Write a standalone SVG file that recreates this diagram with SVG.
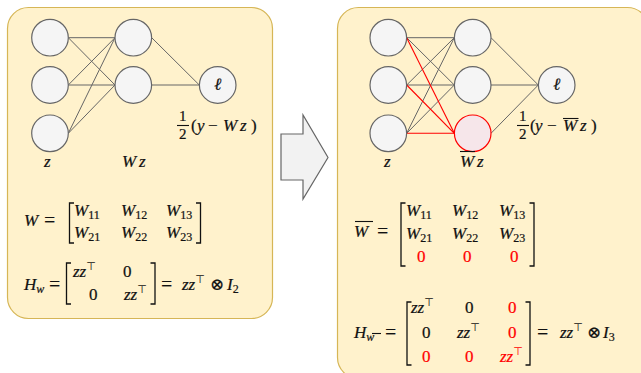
<svg xmlns="http://www.w3.org/2000/svg" width="641" height="373" viewBox="0 0 641 373">
<style>
.panel{fill:#fff2cc;stroke:#d6b656;stroke-width:1.2}
.node{fill:#f5f5f5;stroke:#666666;stroke-width:1.2}
.rnode{fill:#f6e6ea;stroke:#ff0000;stroke-width:1.2}
.e{stroke:#666666;stroke-width:1;fill:none}
.re{stroke:#ff0000;stroke-width:1.1;fill:none}
.m{font-family:"Liberation Serif","DejaVu Serif",serif;font-size:17px;fill:#111;stroke:#111;stroke-width:0.2}
.i{font-style:italic}
.s{font-size:12px;font-style:normal}
.si{font-size:12px;font-style:italic}
.t{font-family:"DejaVu Sans",sans-serif;font-size:11px;stroke-width:0.05}
.q{font-size:20px;stroke-width:0.1}
.f{font-size:15px}
.r{fill:#ff0000;stroke:#ff0000}
.br{fill:none;stroke:#111;stroke-width:1.3}
.ov{stroke:#111;stroke-width:1.1}
.arrow{fill:#f2f2f2;stroke:#666666;stroke-width:1.2}
</style>

<g id="left-panel"><rect class="panel" x="7.5" y="7.5" width="265" height="311" rx="21"/></g>
<g id="right-panel"><rect class="panel" x="337.5" y="7.5" width="311" height="371" rx="21"/></g>

<g id="arrow"><polygon class="arrow" points="281,134 303,134 303,115 328,157.5 303,199 303,180 281,180"/></g>

<g id="connectors">
  <line class="e" x1="68.3" y1="37.7" x2="115" y2="37.7"/>
  <line class="e" x1="68.3" y1="37.7" x2="115" y2="85"/>
  <line class="e" x1="68.3" y1="85" x2="115" y2="37.7"/>
  <line class="e" x1="68.3" y1="85" x2="115" y2="85"/>
  <line class="e" x1="68.3" y1="133.3" x2="115" y2="37.7"/>
  <line class="e" x1="68.3" y1="133.3" x2="115" y2="85"/>
  <line class="e" x1="151.7" y1="37.7" x2="199.3" y2="85"/>
  <line class="e" x1="151.7" y1="85" x2="199.3" y2="85"/>

  <line class="e" x1="406.7" y1="37.7" x2="454.3" y2="37.7"/>
  <line class="e" x1="406.7" y1="37.7" x2="454.3" y2="85"/>
  <line class="e" x1="406.7" y1="85" x2="454.3" y2="37.7"/>
  <line class="e" x1="406.7" y1="85" x2="454.3" y2="85"/>
  <line class="e" x1="406.7" y1="133.3" x2="454.3" y2="37.7"/>
  <line class="e" x1="406.7" y1="133.3" x2="454.3" y2="85"/>
  <line class="re" x1="406.7" y1="37.7" x2="454.3" y2="133.3"/>
  <line class="re" x1="406.7" y1="85" x2="454.3" y2="133.3"/>
  <line class="re" x1="406.7" y1="133.3" x2="454.3" y2="133.3"/>
  <line class="e" x1="491" y1="37.7" x2="538.3" y2="85"/>
  <line class="e" x1="491" y1="85" x2="538.3" y2="85"/>
  <line class="e" x1="491" y1="133.3" x2="538.3" y2="85"/>
</g>

<g id="l-in1"><circle class="node" cx="50" cy="37.7" r="18.3"/></g>
<g id="l-in2"><circle class="node" cx="50" cy="85" r="18.3"/></g>
<g id="l-in3"><circle class="node" cx="50" cy="133.3" r="18.3"/></g>
<g id="l-h1"><circle class="node" cx="133.3" cy="37.7" r="18.3"/></g>
<g id="l-h2"><circle class="node" cx="133.3" cy="85" r="18.3"/></g>
<g id="l-loss"><circle class="node" cx="217.7" cy="85" r="18.3"/><text class="m i" x="217.7" y="90" text-anchor="middle">ℓ</text></g>

<g id="r-in1"><circle class="node" cx="388.3" cy="37.7" r="18.3"/></g>
<g id="r-in2"><circle class="node" cx="388.3" cy="85" r="18.3"/></g>
<g id="r-in3"><circle class="node" cx="388.3" cy="133.3" r="18.3"/></g>
<g id="r-h1"><circle class="node" cx="472.7" cy="37.7" r="18.3"/></g>
<g id="r-h2"><circle class="node" cx="472.7" cy="85" r="18.3"/></g>
<g id="r-h3"><circle class="rnode" cx="472.7" cy="133.3" r="18.3"/></g>
<g id="r-loss"><circle class="node" cx="556.7" cy="85" r="18.3"/><text class="m i" x="556.7" y="90" text-anchor="middle">ℓ</text></g>

<g id="l-labels">
  <text class="m i" x="44" y="167">z</text>
  <text class="m i" x="122" y="167">W<tspan x="139">z</tspan></text>
  <text class="m f" x="179" y="121">1</text>
  <line class="ov" x1="177" y1="125.5" x2="189" y2="125.5"/>
  <text class="m f" x="179" y="139">2</text>
  <text class="m" x="191" y="131">(<tspan class="i" x="197">y</tspan><tspan x="208">−</tspan><tspan class="i" x="223">W</tspan><tspan class="i" x="240">z</tspan><tspan x="251">)</tspan></text>
</g>

<g id="l-W">
  <text class="m i" x="24" y="226">W</text>
  <text class="m q" x="44" y="227">=</text>
  <path class="br" d="M74,203 H69.5 V243 H74"/>
  <path class="br" d="M196,203 H200.5 V243 H196"/>
  <text class="m i" x="74" y="216">W<tspan class="s" dy="3">11</tspan></text>
  <text class="m i" x="121" y="216">W<tspan class="s" dy="3">12</tspan></text>
  <text class="m i" x="166" y="216">W<tspan class="s" dy="3">13</tspan></text>
  <text class="m i" x="74" y="238">W<tspan class="s" dy="3">21</tspan></text>
  <text class="m i" x="121" y="238">W<tspan class="s" dy="3">22</tspan></text>
  <text class="m i" x="166" y="238">W<tspan class="s" dy="3">23</tspan></text>
</g>

<g id="l-H">
  <text class="m i" x="24" y="290">H<tspan class="si" dy="3">w</tspan></text>
  <text class="m q" x="49" y="291">=</text>
  <path class="br" d="M71,263 H66.5 V304 H71"/>
  <path class="br" d="M150.5,263 H155 V304 H150.5"/>
  <text class="m i" x="73" y="277">zz<tspan class="t" dy="-7">⊤</tspan></text>
  <text class="m" x="123" y="277">0</text>
  <text class="m" x="89" y="300">0</text>
  <text class="m i" x="124" y="300">zz<tspan class="t" dy="-7">⊤</tspan></text>
  <text class="m q" x="161" y="291">=</text>
  <text class="m i" x="182" y="290">zz<tspan class="t" dy="-7">⊤</tspan></text>
  <text class="m" x="210" y="290">⊗</text>
  <text class="m i" x="227" y="290">I<tspan class="s" dy="3">2</tspan></text>
</g>

<g id="r-labels">
  <text class="m i" x="384" y="167">z</text>
  <line class="ov" x1="460" y1="151.5" x2="475" y2="151.5"/>
  <text class="m i" x="460" y="167">W<tspan x="477">z</tspan></text>
  <text class="m f" x="519" y="121">1</text>
  <line class="ov" x1="517" y1="125.5" x2="529" y2="125.5"/>
  <text class="m f" x="519" y="139">2</text>
  <line class="ov" x1="563" y1="118.5" x2="578.5" y2="118.5"/>
  <text class="m" x="530" y="131">(<tspan class="i" x="535">y</tspan><tspan x="547">−</tspan><tspan class="i" x="563">W</tspan><tspan class="i" x="580">z</tspan><tspan x="591">)</tspan></text>
</g>

<g id="r-W">
  <line class="ov" x1="355" y1="221.5" x2="373" y2="221.5"/>
  <text class="m i" x="354" y="237">W</text>
  <text class="m q" x="377" y="238">=</text>
  <path class="br" d="M405.5,203 H401 V266 H405.5"/>
  <path class="br" d="M529.5,203 H534 V266 H529.5"/>
  <text class="m i" x="406" y="216">W<tspan class="s" dy="3">11</tspan></text>
  <text class="m i" x="452" y="216">W<tspan class="s" dy="3">12</tspan></text>
  <text class="m i" x="499" y="216">W<tspan class="s" dy="3">13</tspan></text>
  <text class="m i" x="406" y="239">W<tspan class="s" dy="3">21</tspan></text>
  <text class="m i" x="452" y="239">W<tspan class="s" dy="3">22</tspan></text>
  <text class="m i" x="499" y="239">W<tspan class="s" dy="3">23</tspan></text>
  <text class="m r" x="417" y="262">0</text>
  <text class="m r" x="463" y="262">0</text>
  <text class="m r" x="510" y="262">0</text>
</g>

<g id="r-H">
  <text class="m i" x="354" y="338">H<tspan class="si" dy="3">w</tspan></text>
  <line class="ov" x1="372" y1="333.5" x2="381" y2="333.5"/>
  <text class="m q" x="385" y="339">=</text>
  <path class="br" d="M411.5,302 H407 V365 H411.5"/>
  <path class="br" d="M525.5,302 H530 V365 H525.5"/>
  <text class="m i" x="411" y="313">zz<tspan class="t" dy="-7">⊤</tspan></text>
  <text class="m" x="465" y="313">0</text>
  <text class="m r" x="508" y="313">0</text>
  <text class="m" x="422" y="338">0</text>
  <text class="m i" x="457" y="338">zz<tspan class="t" dy="-7">⊤</tspan></text>
  <text class="m r" x="508" y="338">0</text>
  <text class="m r" x="422" y="362">0</text>
  <text class="m r" x="465" y="362">0</text>
  <text class="m i r" x="500" y="362">zz<tspan class="t" dy="-7">⊤</tspan></text>
  <text class="m q" x="537" y="339">=</text>
  <text class="m i" x="560" y="338">zz<tspan class="t" dy="-7">⊤</tspan></text>
  <text class="m" x="587" y="338">⊗</text>
  <text class="m i" x="603" y="338">I<tspan class="s" dy="3">3</tspan></text>
</g>
</svg>
